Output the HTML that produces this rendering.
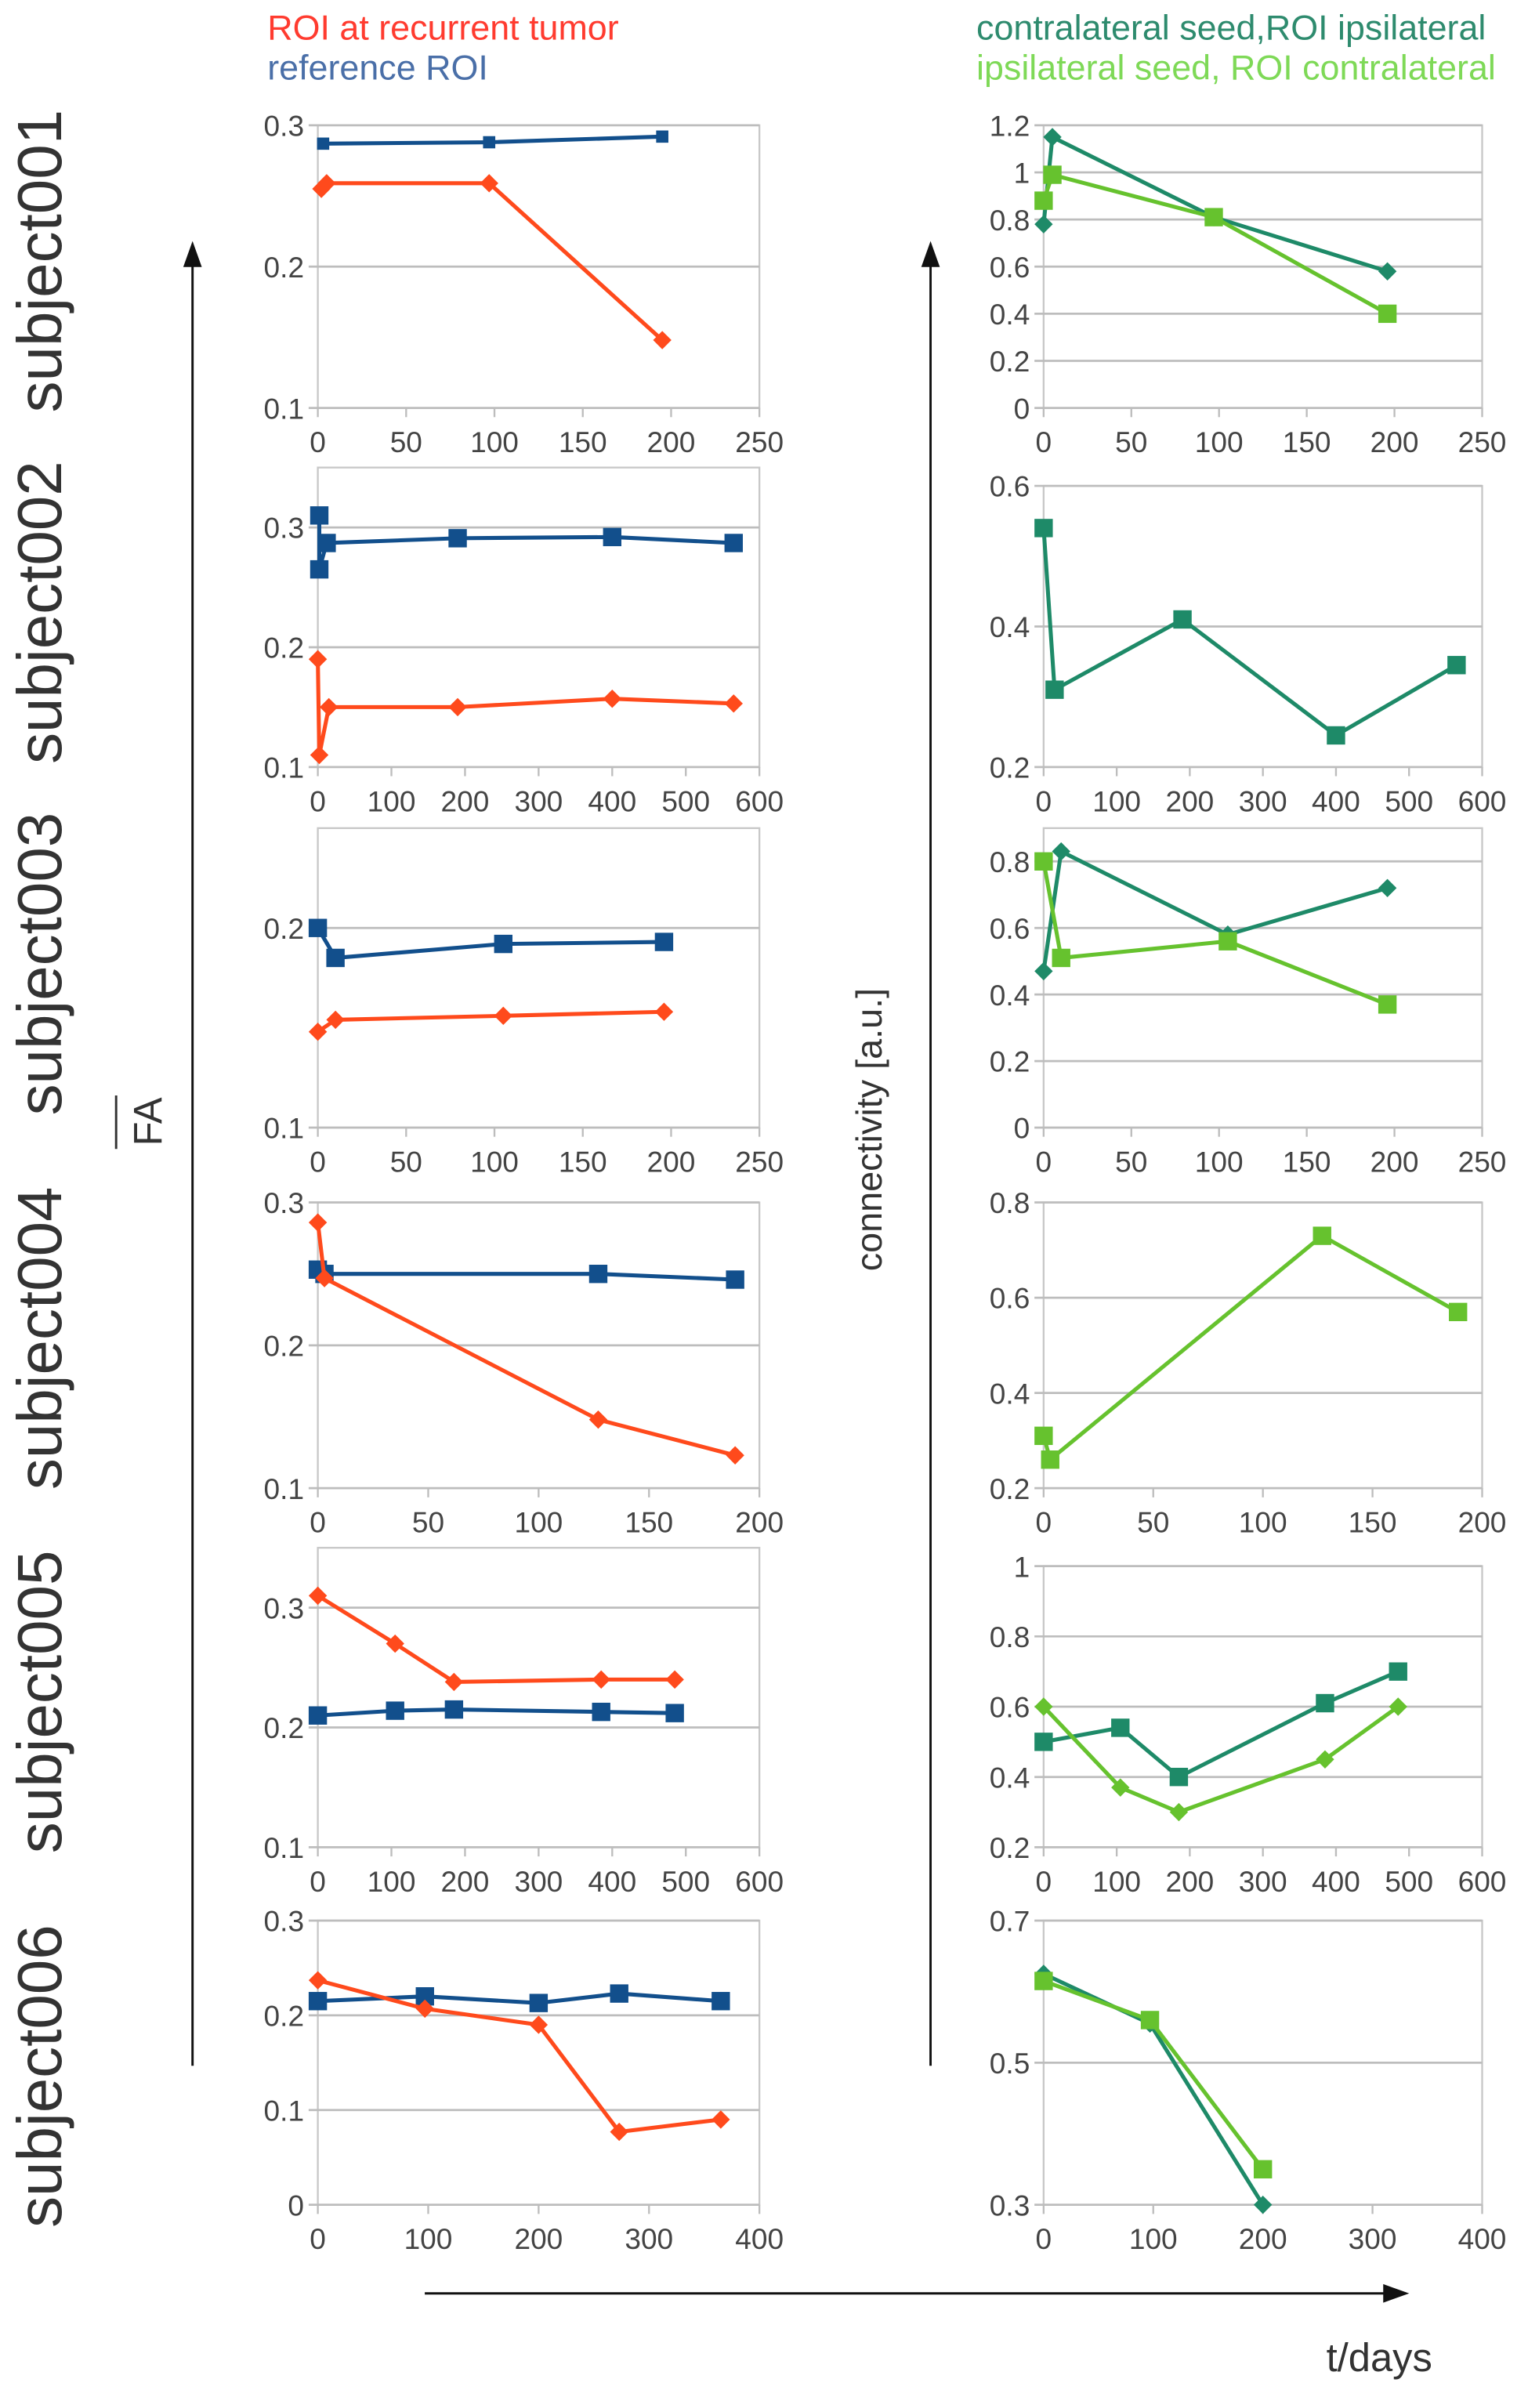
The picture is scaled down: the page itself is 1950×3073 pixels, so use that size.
<!DOCTYPE html>
<html><head><meta charset="utf-8"><style>
html,body{margin:0;padding:0;background:#fff}
svg{display:block}
text{font-family:"Liberation Sans",sans-serif}
</style></head><body>
<svg id="fig" width="1950" height="3073" viewBox="0 0 1000 1576" preserveAspectRatio="none" xmlns="http://www.w3.org/2000/svg">
<text x="175" y="26" font-size="23" fill="#ff3b2f">ROI at recurrent tumor</text>
<text x="175" y="52" font-size="23" fill="#4a6fa8">reference ROI</text>
<text x="639" y="26" font-size="23" fill="#2e8b6e">contralateral seed,ROI ipsilateral</text>
<text x="639" y="52" font-size="23" fill="#7ed957">ipsilateral seed, ROI contralateral</text>
<g font-size="41" fill="#333">
<text transform="translate(40,270) rotate(-90)">subject001</text>
<text transform="translate(40,500) rotate(-90)">subject002</text>
<text transform="translate(40,730) rotate(-90)">subject003</text>
<text transform="translate(40,975) rotate(-90)">subject004</text>
<text transform="translate(40,1213) rotate(-90)">subject005</text>
<text transform="translate(40,1458) rotate(-90)">subject006</text>
</g>
<text transform="translate(106,750) rotate(-90)" font-size="26" fill="#333">FA</text>
<line x1="76" y1="752" x2="76" y2="717" stroke="#333" stroke-width="1.5"/>
<text transform="translate(577,832) rotate(-90)" font-size="24" fill="#333">connectivity [a.u.]</text>
<g stroke="#111" stroke-width="1.5" fill="#111">
<line x1="126" y1="1352" x2="126" y2="172"/><polygon points="126,160 121,174 131,174"/>
<line x1="609" y1="1352" x2="609" y2="172"/><polygon points="609,160 604,174 614,174"/>
<line x1="278" y1="1501" x2="906" y2="1501"/><polygon points="920,1501 906,1496 906,1506"/>
</g>
<text x="868" y="1552" font-size="26" fill="#333">t/days</text>
<g id="charts"></g>
</svg>
<script>
// x domains / ticks
const xTicks1=[0,50,100,150,200,250];
const xTicks2=[0,100,200,300,400,500,600];
const xTicks4=[0,50,100,150,200];
const xTicks6=[0,100,200,300,400];
// subject001
const s1Days=[2,5,97,195];
const s1Red=[0.255,0.259,0.259,0.148];
const s1BlueDays=[3,97,195];
const s1Blue=[0.287,0.288,0.292];
const s1DarkDays=[0,5,97,196];
const s1Dark=[0.78,1.15,0.81,0.58];
const s1LightDays=[0,5,97,196];
const s1Light=[0.88,0.99,0.81,0.40];
// subject002
const s2BlueDays=[2,2,12,190,400,565];
const s2Blue=[0.31,0.265,0.287,0.291,0.292,0.287];
const s2RedDays=[0,2,15,190,400,565];
const s2Red=[0.19,0.11,0.15,0.15,0.157,0.153];
const s2DarkDays=[0,15,190,400,565];
const s2Dark=[0.54,0.31,0.41,0.245,0.345];
// subject003
const s3Days=[0,10,105,196];
const s3Blue=[0.2,0.185,0.192,0.193];
const s3Red=[0.148,0.154,0.156,0.158];
const s3Dark=[0.47,0.83,0.58,0.72];
const s3Light=[0.80,0.51,0.56,0.37];
// subject004
const s4Days=[0,3,127,189];
const s4Blue=[0.253,0.25,0.25,0.246];
const s4Red=[0.286,0.247,0.148,0.123];
const s4Light=[0.31,0.26,0.73,0.57];
// subject005
const s5Days=[0,105,185,385,485];
const s5Red=[0.31,0.27,0.238,0.24,0.24];
const s5Blue=[0.21,0.214,0.215,0.213,0.212];
const s5Dark=[0.50,0.54,0.40,0.61,0.70];
const s5Light=[0.60,0.37,0.30,0.45,0.60];
// subject006
const s6Days=[0,97,200,273,365];
const s6Blue=[0.215,0.22,0.213,0.223,0.215];
const s6Red=[0.237,0.207,0.19,0.077,0.09];
const s6RightDays=[0,97,200];
const s6Dark=[0.625,0.555,0.30];
const s6Light=[0.615,0.56,0.35];

const NS='http://www.w3.org/2000/svg';
const root=document.getElementById('charts');
const RED='#ff4a1c',BLUE='#124f8c',DARK='#1e8a68',LIGHT='#66c22e';
function mk(tag,attrs,parent){const e=document.createElementNS(NS,tag);for(const k in attrs)e.setAttribute(k,attrs[k]);parent.appendChild(e);return e;}

function panel(name,x0,x1,yTop,yBot,xt,yt,yMin,yMax,yLab,series){
  const g=mk('g',{},root);
  
  
  const xMax=xt[xt.length-1];
  const sx=v=>x0+(v-xt[0])/(xMax-xt[0])*(x1-x0);
  const sy=v=>yBot-(v-yMin)/(yMax-yMin)*(yBot-yTop);
  mk('rect',{x:x0,y:yTop,width:x1-x0,height:yBot-yTop,fill:'none',stroke:'#c8c8c8','stroke-width':1.2},g);
  yt.forEach((v,i)=>{
    mk('line',{x1:x0-6,x2:x1,y1:sy(v),y2:sy(v),stroke:'#bdbdbd','stroke-width':1.4},g);
    const t=mk('text',{x:x0-9,y:sy(v)+7,'font-size':19,'text-anchor':'end',fill:'#444'},g);
    t.textContent=yLab[i];
    
    
  });
  xt.forEach(v=>{
    mk('line',{x1:sx(v),x2:sx(v),y1:yBot,y2:yBot+6,stroke:'#bdbdbd','stroke-width':1.2},g);
    const t=mk('text',{x:sx(v),y:yBot+29,'font-size':19,'text-anchor':'middle',fill:'#444'},g);
    t.textContent=v;
    
    
  });
  series.forEach(s=>{
    const pts=s.x.map((d,i)=>sx(d)+','+sy(s.y[i])).join(' ');
    const pl=mk('polyline',{points:pts,fill:'none',stroke:s.c,'stroke-width':2.6,'stroke-linejoin':'round'},g);
    
    
    s.x.forEach((d,i)=>{
      const cx=sx(d),cy=sy(s.y[i]);let m;
      if(s.m==='sq'){const r=s.r||6;m=mk('rect',{x:cx-r,y:cy-r,width:2*r,height:2*r,fill:s.c},g);}
      else{const r=s.r||6;m=mk('polygon',{points:`${cx},${cy-r} ${cx+r},${cy} ${cx},${cy+r} ${cx-r},${cy}`,fill:s.c},g);}
      
      
    });
  });
}
const L0=208,L1=497,R0=683,R1=970;
panel('subject001-fa-chart',L0,L1,82,267,xTicks1,[0.1,0.2,0.3],0.1,0.3,['0.1','0.2','0.3'],[
 {x:s1BlueDays,y:s1Blue,c:BLUE,m:'sq',r:4,n:'reference-roi'},
 {x:s1Days,y:s1Red,c:RED,m:'di',n:'roi-tumor'}]);
panel('subject001-connectivity-chart',R0,R1,82,267,xTicks1,[0,0.2,0.4,0.6,0.8,1,1.2],0,1.2,['0','0.2','0.4','0.6','0.8','1','1.2'],[
 {x:s1DarkDays,y:s1Dark,c:DARK,m:'di',n:'contralateral-seed'},
 {x:s1LightDays,y:s1Light,c:LIGHT,m:'sq',n:'ipsilateral-seed'}]);
panel('subject002-fa-chart',L0,L1,306,502,xTicks2,[0.1,0.2,0.3],0.1,0.35,['0.1','0.2','0.3'],[
 {x:s2BlueDays,y:s2Blue,c:BLUE,m:'sq',n:'reference-roi'},
 {x:s2RedDays,y:s2Red,c:RED,m:'di',n:'roi-tumor'}]);
panel('subject002-connectivity-chart',R0,R1,318,502,xTicks2,[0.2,0.4,0.6],0.2,0.6,['0.2','0.4','0.6'],[
 {x:s2DarkDays,y:s2Dark,c:DARK,m:'sq',n:'contralateral-seed'}]);
panel('subject003-fa-chart',L0,L1,542,738,xTicks1,[0.1,0.2],0.1,0.25,['0.1','0.2'],[
 {x:s3Days,y:s3Blue,c:BLUE,m:'sq',n:'reference-roi'},
 {x:s3Days,y:s3Red,c:RED,m:'di',n:'roi-tumor'}]);
panel('subject003-connectivity-chart',R0,R1,542,738,xTicks1,[0,0.2,0.4,0.6,0.8],0,0.9,['0','0.2','0.4','0.6','0.8'],[
 {x:s3Days,y:s3Dark,c:DARK,m:'di',n:'contralateral-seed'},
 {x:s3Days,y:s3Light,c:LIGHT,m:'sq',n:'ipsilateral-seed'}]);
panel('subject004-fa-chart',L0,L1,787,974,xTicks4,[0.1,0.2,0.3],0.1,0.3,['0.1','0.2','0.3'],[
 {x:s4Days,y:s4Blue,c:BLUE,m:'sq',n:'reference-roi'},
 {x:s4Days,y:s4Red,c:RED,m:'di',n:'roi-tumor'}]);
panel('subject004-connectivity-chart',R0,R1,787,974,xTicks4,[0.2,0.4,0.6,0.8],0.2,0.8,['0.2','0.4','0.6','0.8'],[
 {x:s4Days,y:s4Light,c:LIGHT,m:'sq',n:'ipsilateral-seed'}]);
panel('subject005-fa-chart',L0,L1,1013,1209,xTicks2,[0.1,0.2,0.3],0.1,0.35,['0.1','0.2','0.3'],[
 {x:s5Days,y:s5Red,c:RED,m:'di',n:'roi-tumor'},
 {x:s5Days,y:s5Blue,c:BLUE,m:'sq',n:'reference-roi'}]);
panel('subject005-connectivity-chart',R0,R1,1025,1209,xTicks2,[0.2,0.4,0.6,0.8,1],0.2,1,['0.2','0.4','0.6','0.8','1'],[
 {x:s5Days,y:s5Dark,c:DARK,m:'sq',n:'contralateral-seed'},
 {x:s5Days,y:s5Light,c:LIGHT,m:'di',n:'ipsilateral-seed'}]);
panel('subject006-fa-chart',L0,L1,1257,1443,xTicks6,[0,0.1,0.2,0.3],0,0.3,['0','0.1','0.2','0.3'],[
 {x:s6Days,y:s6Blue,c:BLUE,m:'sq',n:'reference-roi'},
 {x:s6Days,y:s6Red,c:RED,m:'di',n:'roi-tumor'}]);
panel('subject006-connectivity-chart',R0,R1,1257,1443,xTicks6,[0.3,0.5,0.7],0.3,0.7,['0.3','0.5','0.7'],[
 {x:s6RightDays,y:s6Dark,c:DARK,m:'di',n:'contralateral-seed'},
 {x:s6RightDays,y:s6Light,c:LIGHT,m:'sq',n:'ipsilateral-seed'}]);
</script>
</body></html>
